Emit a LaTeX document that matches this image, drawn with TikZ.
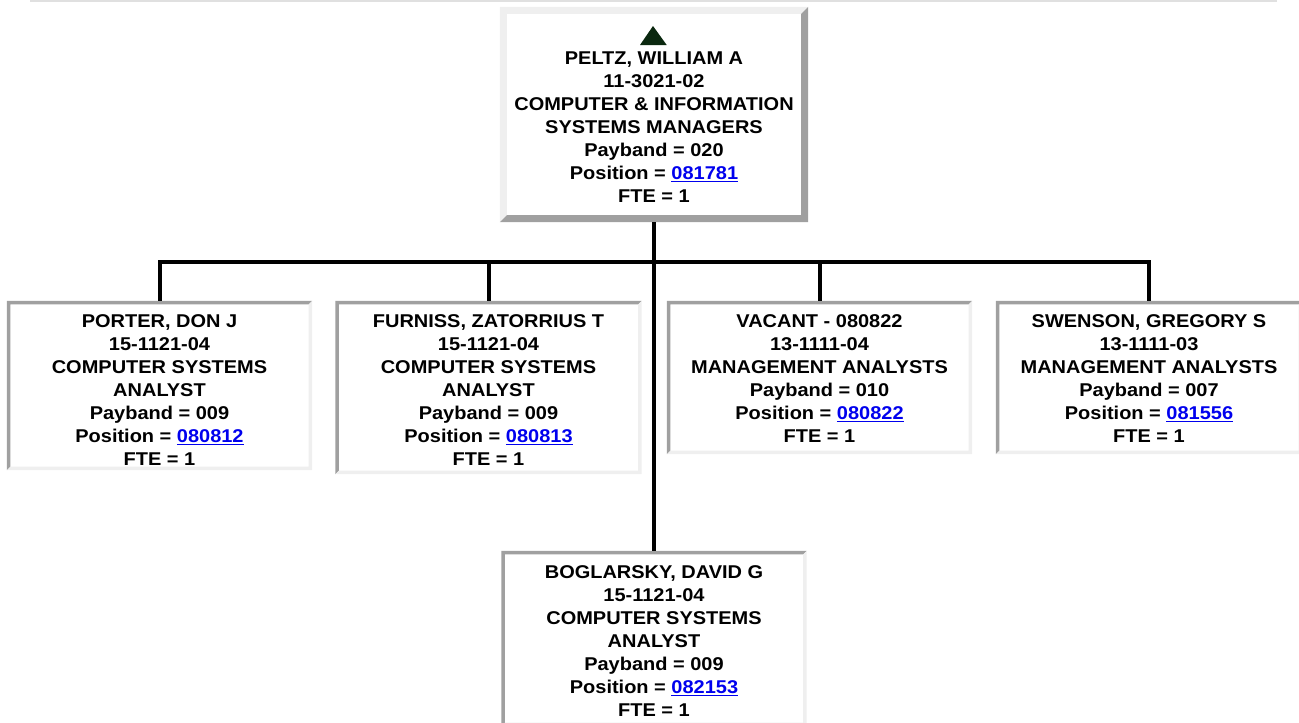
\documentclass[tikz,border=0pt]{standalone}
\usepackage{fontspec}
\setmainfont{Liberation Sans}[FakeStretch=1.08]
\usetikzlibrary{positioning}

\definecolor{linkblue}{RGB}{0,0,238}
\definecolor{bevdark}{RGB}{160,160,160}
\definecolor{bevlight}{RGB}{239,239,239}
\definecolor{arrowgreen}{RGB}{10,40,15}

% position number shown as a link
\newcommand{\plink}[1]{\textcolor{linkblue}{\underline{#1}}}

% bevelled border round a box: node, top-left colour, bottom-right colour, width
\newcommand{\boxbevel}[4]{%
  \fill[#2] (#1.south west) -- (#1.north west) -- (#1.north east)
    -- ([shift={(-#4pt,-#4pt)}]#1.north east)
    -- ([shift={(#4pt,-#4pt)}]#1.north west)
    -- ([shift={(#4pt,#4pt)}]#1.south west) -- cycle;
  \fill[#3] (#1.north east) -- (#1.south east) -- (#1.south west)
    -- ([shift={(#4pt,#4pt)}]#1.south west)
    -- ([shift={(-#4pt,#4pt)}]#1.south east)
    -- ([shift={(-#4pt,-#4pt)}]#1.north east) -- cycle;
}

\begin{document}
\begin{tikzpicture}[x=1pt, y=-1pt,
    box/.style={rectangle, fill=white, inner sep=0pt},
    info/.style={align=center, inner sep=0pt,
      font=\bfseries\fontsize{18.5}{23}\selectfont},
    conn/.style={line width=4pt, line join=miter}]

  \useasboundingbox (0,0) rectangle (1299,723);
  \clip (0,0) rectangle (1299,723);

  % rule along the top
  \draw[black!12, line width=1.5pt] (30,0.75) -- (1277,0.75);

  % manager
  \node[box, minimum width=308pt, minimum height=215pt] (peltz) at (654,114.5) {};
  \boxbevel{peltz}{bevlight}{bevdark}{7}
  \fill[arrowgreen] (640,45) -- (666.7,45) -- (653,26) -- cycle;
  \node[info, below=44.5pt of peltz.north] (peltz-t)
    {PELTZ, WILLIAM A\\11-3021-02\\COMPUTER \& INFORMATION\\SYSTEMS MANAGERS\\
     Payband = 020\\Position = \plink{081781}\\FTE = 1};

  % staff, first row
  \node[box, minimum width=305pt, minimum height=169pt] (porter) at (159.5,385.5) {};
  \boxbevel{porter}{bevdark}{bevlight}{3.5}
  \node[info, below=13.5pt of porter.north] (porter-t)
    {PORTER, DON J\\15-1121-04\\COMPUTER SYSTEMS\\ANALYST\\
     Payband = 009\\Position = \plink{080812}\\FTE = 1};

  \node[box, minimum width=306pt, minimum height=173pt] (furniss) at (488.5,387.5) {};
  \boxbevel{furniss}{bevdark}{bevlight}{3.5}
  \node[info, below=13.5pt of furniss.north] (furniss-t)
    {FURNISS, ZATORRIUS T\\15-1121-04\\COMPUTER SYSTEMS\\ANALYST\\
     Payband = 009\\Position = \plink{080813}\\FTE = 1};

  \node[box, minimum width=305pt, minimum height=153pt] (vacant) at (819.5,377.5) {};
  \boxbevel{vacant}{bevdark}{bevlight}{3.5}
  \node[info, below=13.5pt of vacant.north] (vacant-t)
    {VACANT - 080822\\13-1111-04\\MANAGEMENT ANALYSTS\\
     Payband = 010\\Position = \plink{080822}\\FTE = 1};

  \node[box, minimum width=306pt, minimum height=153pt] (swenson) at (1149,377.5) {};
  \boxbevel{swenson}{bevdark}{bevlight}{3.5}
  \node[info, below=13.5pt of swenson.north] (swenson-t)
    {SWENSON, GREGORY S\\13-1111-03\\MANAGEMENT ANALYSTS\\
     Payband = 007\\Position = \plink{081556}\\FTE = 1};

  % staff, second row
  \node[box, minimum width=305pt, minimum height=175pt] (boglarsky) at (654,638.5) {};
  \boxbevel{boglarsky}{bevdark}{bevlight}{3.5}
  \node[info, below=14.5pt of boglarsky.north] (boglarsky-t)
    {BOGLARSKY, DAVID G\\15-1121-04\\COMPUTER SYSTEMS\\ANALYST\\
     Payband = 009\\Position = \plink{082153}\\FTE = 1};

  % connectors
  \coordinate (bus) at (654,262);
  \draw[conn] (peltz.south) -- (boglarsky.north);
  \draw[conn] (porter.north) -- (porter.north |- bus)
    -- (swenson.north |- bus) -- (swenson.north);
  \draw[conn] (furniss.north) -- (furniss.north |- bus);
  \draw[conn] (vacant.north) -- (vacant.north |- bus);

\end{tikzpicture}
\end{document}
